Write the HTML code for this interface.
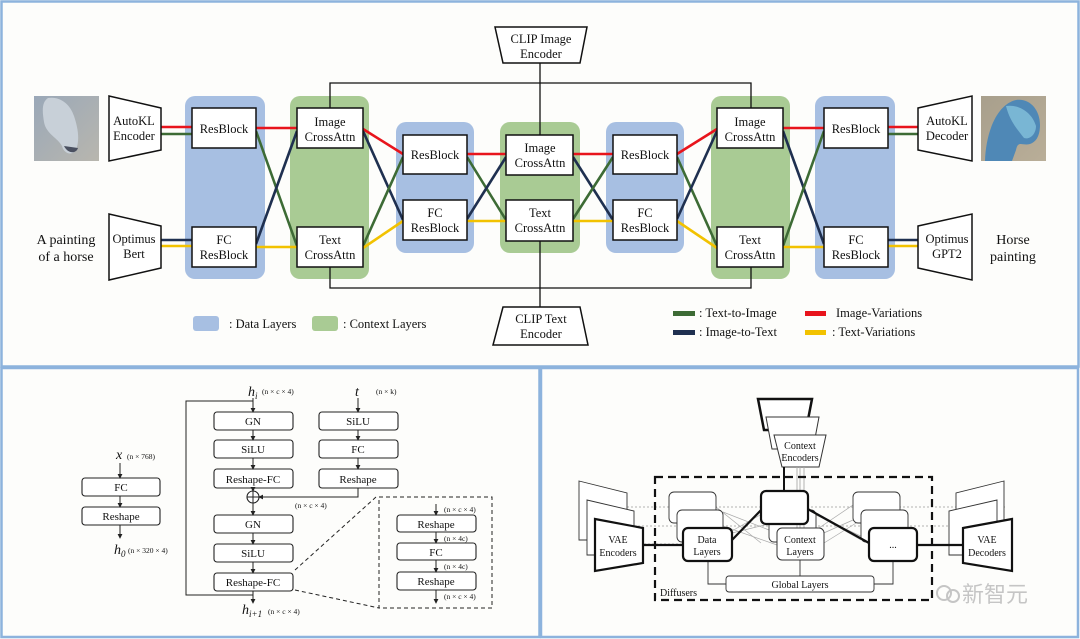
<!DOCTYPE html>
<html><head><meta charset="utf-8"><style>
html,body{margin:0;padding:0;background:#fff;}
svg{display:block;}
text{font-family:"Liberation Serif",serif;fill:#111;}
</style></head><body>
<svg width="1080" height="639" viewBox="0 0 1080 639" xmlns="http://www.w3.org/2000/svg">
<defs>
<linearGradient id="hl" x1="0" y1="0" x2="1" y2="1"><stop offset="0" stop-color="#9aa8b8"/><stop offset="1" stop-color="#b8b6ae"/></linearGradient>
<linearGradient id="hr" x1="0" y1="0" x2="1" y2="1"><stop offset="0" stop-color="#a89f8c"/><stop offset="1" stop-color="#b9ae98"/></linearGradient>
<marker id="ar" viewBox="0 0 6 6" refX="5" refY="3" markerWidth="5" markerHeight="5" orient="auto"><path d="M0,0 L6,3 L0,6Z" fill="#222"/></marker>
</defs>
<rect width="1080" height="639" fill="#fdfdfb"/>
<g fill="none" stroke="#8db3dd" stroke-width="2.5">
<rect x="1.5" y="1.5" width="1077" height="365"/>
<rect x="1.5" y="368" width="538" height="269"/>
<rect x="541" y="368" width="537" height="269"/>
</g>

<g>
<rect x="185" y="96" width="80" height="183" rx="10" fill="#a7bfe2"/>
<rect x="290" y="96" width="79" height="183" rx="10" fill="#a9cb94"/>
<rect x="396" y="122" width="78" height="131" rx="10" fill="#a7bfe2"/>
<rect x="500" y="122" width="80" height="131" rx="10" fill="#a9cb94"/>
<rect x="606" y="122" width="78" height="131" rx="10" fill="#a7bfe2"/>
<rect x="711" y="96" width="79" height="183" rx="10" fill="#a9cb94"/>
<rect x="815" y="96" width="80" height="183" rx="10" fill="#a7bfe2"/>
</g>
<g stroke="#111" stroke-width="1.3" fill="none">
<polyline points="330,108 330,83 751,83 751,108"/>
<polyline points="330,267 330,288 751,288 751,267"/>
<line x1="540" y1="63" x2="540" y2="135"/>
<line x1="540" y1="241" x2="540" y2="307"/>
</g>
<g stroke-width="2.6" fill="none">
<line x1="161" y1="127" x2="192" y2="127" stroke="#e8141c"/>
<line x1="161" y1="134" x2="192" y2="134" stroke="#3d6b35"/>
<line x1="161" y1="240" x2="192" y2="240" stroke="#1f3050"/>
<line x1="161" y1="246" x2="192" y2="246" stroke="#f2c200"/>
<line x1="256" y1="128" x2="297" y2="128" stroke="#e8141c"/>
<line x1="256" y1="131" x2="297" y2="246" stroke="#3d6b35"/>
<line x1="256" y1="244" x2="297" y2="131" stroke="#1f3050"/>
<line x1="256" y1="247" x2="297" y2="247" stroke="#f2c200"/>
<line x1="363" y1="129" x2="403" y2="154" stroke="#e8141c"/>
<line x1="363" y1="131" x2="403" y2="220" stroke="#1f3050"/>
<line x1="363" y1="246" x2="403" y2="157" stroke="#3d6b35"/>
<line x1="363" y1="248" x2="403" y2="221" stroke="#f2c200"/>
<line x1="467" y1="154" x2="506" y2="154" stroke="#e8141c"/>
<line x1="467" y1="157" x2="506" y2="220" stroke="#3d6b35"/>
<line x1="467" y1="219" x2="506" y2="157" stroke="#1f3050"/>
<line x1="467" y1="221" x2="506" y2="221" stroke="#f2c200"/>
<line x1="573" y1="154" x2="613" y2="154" stroke="#e8141c"/>
<line x1="573" y1="157" x2="613" y2="220" stroke="#1f3050"/>
<line x1="573" y1="219" x2="613" y2="157" stroke="#3d6b35"/>
<line x1="573" y1="221" x2="613" y2="221" stroke="#f2c200"/>
<line x1="677" y1="154" x2="717" y2="129" stroke="#e8141c"/>
<line x1="677" y1="157" x2="717" y2="246" stroke="#3d6b35"/>
<line x1="677" y1="219" x2="717" y2="131" stroke="#1f3050"/>
<line x1="677" y1="221" x2="717" y2="248" stroke="#f2c200"/>
<line x1="783" y1="128" x2="824" y2="128" stroke="#e8141c"/>
<line x1="783" y1="131" x2="824" y2="244" stroke="#1f3050"/>
<line x1="783" y1="246" x2="824" y2="131" stroke="#3d6b35"/>
<line x1="783" y1="247" x2="824" y2="247" stroke="#f2c200"/>
<line x1="888" y1="127" x2="918" y2="127" stroke="#e8141c"/>
<line x1="888" y1="134" x2="918" y2="134" stroke="#3d6b35"/>
<line x1="888" y1="240" x2="918" y2="240" stroke="#1f3050"/>
<line x1="888" y1="246" x2="918" y2="246" stroke="#f2c200"/>
</g>
<g fill="#fff" stroke="#111" stroke-width="1.5">
<rect x="192" y="108" width="64" height="40"/>
<rect x="192" y="227" width="64" height="40"/>
<rect x="297" y="108" width="66" height="40"/>
<rect x="297" y="227" width="66" height="40"/>
<rect x="403" y="135" width="64" height="39"/>
<rect x="403" y="200" width="64" height="40"/>
<rect x="506" y="135" width="67" height="40"/>
<rect x="506" y="200" width="67" height="41"/>
<rect x="613" y="135" width="64" height="39"/>
<rect x="613" y="200" width="64" height="40"/>
<rect x="717" y="108" width="66" height="40"/>
<rect x="717" y="227" width="66" height="40"/>
<rect x="824" y="108" width="64" height="40"/>
<rect x="824" y="227" width="64" height="40"/>
<polygon points="109,96 161,108 161,150 109,161"/>
<polygon points="109,214 161,226 161,268 109,280"/>
<polygon points="918,108 972,96 972,161 918,150"/>
<polygon points="918,226 972,214 972,280 918,268"/>
<polygon points="495,27 587,27 580,63 503,63"/>
<polygon points="503,307 580,307 588,345 493,345"/>
</g>
<g font-size="12.5" text-anchor="middle">
<text x="224" y="133">ResBlock</text>
<text x="224" y="244">FC</text><text x="224" y="259">ResBlock</text>
<text x="330" y="126">Image</text><text x="330" y="141">CrossAttn</text>
<text x="330" y="244">Text</text><text x="330" y="259">CrossAttn</text>
<text x="435" y="159">ResBlock</text>
<text x="435" y="217">FC</text><text x="435" y="232">ResBlock</text>
<text x="540" y="152">Image</text><text x="540" y="167">CrossAttn</text>
<text x="540" y="217">Text</text><text x="540" y="232">CrossAttn</text>
<text x="645" y="159">ResBlock</text>
<text x="645" y="217">FC</text><text x="645" y="232">ResBlock</text>
<text x="750" y="126">Image</text><text x="750" y="141">CrossAttn</text>
<text x="750" y="244">Text</text><text x="750" y="259">CrossAttn</text>
<text x="856" y="133">ResBlock</text>
<text x="856" y="244">FC</text><text x="856" y="259">ResBlock</text>
<text x="134" y="125">AutoKL</text><text x="134" y="140">Encoder</text>
<text x="134" y="243">Optimus</text><text x="134" y="258">Bert</text>
<text x="947" y="125">AutoKL</text><text x="947" y="140">Decoder</text>
<text x="947" y="243">Optimus</text><text x="947" y="258">GPT2</text>
<text x="541" y="43">CLIP Image</text><text x="541" y="58">Encoder</text>
<text x="541" y="323">CLIP Text</text><text x="541" y="338">Encoder</text>
</g>
<g font-size="14" text-anchor="middle">
<text x="66" y="244">A painting</text><text x="66" y="261">of a horse</text>
<text x="1013" y="244">Horse</text><text x="1013" y="261">painting</text>
</g>
<rect x="34" y="96" width="65" height="65" fill="url(#hl)"/>
<path d="M48,98 C60,96 70,104 74,116 C78,128 80,140 76,150 C72,156 64,154 62,146 C58,138 46,134 44,122 C42,110 42,102 48,98Z" fill="#c8d0d8"/>
<path d="M64,146 C68,154 76,154 78,148" fill="#4a5060"/>
<rect x="981" y="96" width="65" height="65" fill="url(#hr)"/>
<path d="M985,161 C986,130 998,104 1016,100 C1030,98 1040,110 1040,125 C1040,136 1036,142 1030,144 C1022,146 1018,140 1016,150 L1012,161Z" fill="#4f88b6"/>
<path d="M1006,106 C1018,104 1032,112 1036,126 C1036,134 1030,140 1024,138 C1018,130 1010,122 1006,106Z" fill="#79b6d4"/>
<rect x="193" y="316" width="26" height="15" rx="3" fill="#a7bfe2"/>
<text x="229" y="328" font-size="12.5">: Data Layers</text>
<rect x="312" y="316" width="26" height="15" rx="3" fill="#a9cb94"/>
<text x="343" y="328" font-size="12.5">: Context Layers</text>
<rect x="673" y="311" width="22" height="5" fill="#3d6b35"/>
<text x="699" y="317" font-size="12.5">: Text-to-Image</text>
<rect x="673" y="330" width="22" height="5" fill="#1f3050"/>
<text x="699" y="336" font-size="12.5">: Image-to-Text</text>
<rect x="805" y="311" width="21" height="5" fill="#e8141c"/>
<text x="836" y="317" font-size="12.5">Image-Variations</text>
<rect x="805" y="330" width="21" height="5" fill="#f2c200"/>
<text x="832" y="336" font-size="12.5">: Text-Variations</text>

<!-- BOTTOM LEFT -->
<g fill="#fff" stroke="#222" stroke-width="1.1">
<rect x="82" y="478" width="78" height="18" rx="3"/>
<rect x="82" y="507" width="78" height="18" rx="3"/>
<rect x="214" y="412" width="79" height="18" rx="3"/>
<rect x="214" y="440" width="79" height="18" rx="3"/>
<rect x="214" y="469" width="79" height="19" rx="3"/>
<rect x="214" y="515" width="79" height="18" rx="3"/>
<rect x="214" y="544" width="79" height="18" rx="3"/>
<rect x="214" y="573" width="79" height="18" rx="3"/>
<rect x="319" y="412" width="79" height="18" rx="3"/>
<rect x="319" y="440" width="79" height="18" rx="3"/>
<rect x="319" y="469" width="79" height="19" rx="3"/>
<rect x="397" y="515" width="79" height="17" rx="3"/>
<rect x="397" y="543" width="79" height="17" rx="3"/>
<rect x="397" y="572" width="79" height="18" rx="3"/>
<circle cx="253" cy="497" r="6"/>
</g>
<g stroke="#222" stroke-width="1" fill="none" marker-end="url(#ar)">
<line x1="120" y1="463" x2="120" y2="478"/><line x1="120" y1="496" x2="120" y2="507"/><line x1="120" y1="525" x2="120" y2="538"/>
<line x1="253" y1="398" x2="253" y2="412"/><line x1="253" y1="430" x2="253" y2="440"/><line x1="253" y1="458" x2="253" y2="469"/>
<line x1="253" y1="488" x2="253" y2="491"/><line x1="253" y1="503" x2="253" y2="515"/><line x1="253" y1="533" x2="253" y2="544"/>
<line x1="253" y1="562" x2="253" y2="573"/><line x1="253" y1="591" x2="253" y2="603"/>
<line x1="358" y1="398" x2="358" y2="412"/><line x1="358" y1="430" x2="358" y2="440"/><line x1="358" y1="458" x2="358" y2="469"/>
<polyline points="358,488 358,497 259,497"/>
<line x1="436" y1="504" x2="436" y2="515"/><line x1="436" y1="532" x2="436" y2="543"/><line x1="436" y1="560" x2="436" y2="572"/><line x1="436" y1="590" x2="436" y2="603"/>
</g>
<g stroke="#222" stroke-width="1" fill="none">
<line x1="247" y1="497" x2="259" y2="497"/><line x1="253" y1="491" x2="253" y2="503"/>
<polyline points="253,401 186,401 186,595 253,595"/>
<rect x="379" y="497" width="113" height="111" stroke-dasharray="4,3"/>
<line x1="295" y1="570" x2="376" y2="497" stroke-dasharray="4,3"/>
<line x1="295" y1="590" x2="379" y2="608" stroke-dasharray="4,3"/>
</g>
<g font-size="11" text-anchor="middle">
<text x="121" y="491">FC</text><text x="121" y="520">Reshape</text>
<text x="253" y="425">GN</text><text x="253" y="453">SiLU</text><text x="253" y="483">Reshape-FC</text>
<text x="253" y="528">GN</text><text x="253" y="557">SiLU</text><text x="253" y="586">Reshape-FC</text>
<text x="358" y="425">SiLU</text><text x="358" y="453">FC</text><text x="358" y="483">Reshape</text>
<text x="436" y="528">Reshape</text><text x="436" y="556">FC</text><text x="436" y="585">Reshape</text>
</g>
<g font-size="7.5" fill="#333">
<text x="127" y="459">(n × 768)</text>
<text x="128" y="553">(n × 320 × 4)</text>
<text x="262" y="394">(n × c × 4)</text>
<text x="376" y="394">(n × k)</text>
<text x="295" y="508">(n × c × 4)</text>
<text x="444" y="512">(n × c × 4)</text>
<text x="444" y="541">(n × 4c)</text>
<text x="444" y="569">(n × 4c)</text>
<text x="444" y="599">(n × c × 4)</text>
<text x="268" y="614">(n × c × 4)</text>
</g>
<g font-style="italic" font-size="14">
<text x="116" y="459">x</text>
<text x="114" y="554">h<tspan font-size="9" dy="3">0</tspan></text>
<text x="248" y="396">h<tspan font-size="9" dy="3">i</tspan></text>
<text x="355" y="396">t</text>
<text x="242" y="614">h<tspan font-size="9" dy="3">i+1</tspan></text>
</g>

<!-- BOTTOM RIGHT -->
<g stroke="#999" stroke-width="0.8" stroke-dasharray="2,2" fill="none">
<line x1="627" y1="507" x2="1005" y2="507"/>
<line x1="634" y1="526" x2="1010" y2="526"/>
<line x1="640" y1="544" x2="683" y2="544"/>
</g>
<g stroke="#aaa" stroke-width="0.7" fill="none">
<line x1="716" y1="507" x2="761" y2="543"/><line x1="723" y1="512" x2="769" y2="530"/>
<line x1="716" y1="540" x2="769" y2="510"/><line x1="723" y1="526" x2="777" y2="545"/>
<line x1="732" y1="533" x2="777" y2="522"/>
<line x1="808" y1="510" x2="861" y2="540"/><line x1="816" y1="530" x2="853" y2="505"/>
<line x1="824" y1="543" x2="869" y2="515"/><line x1="816" y1="515" x2="869" y2="540"/>
<line x1="808" y1="540" x2="853" y2="520"/>
</g>
<g fill="#fff" stroke="#333" stroke-width="0.9">
<polygon points="579,481 627,493 627,540 579,540"/>
<polygon points="587,500 634,511 634,555 587,555"/>
<polygon points="1004,481 956,493 956,540 1004,540"/>
<polygon points="997,500 949,511 949,555 997,555"/>
<rect x="669" y="492" width="47" height="31" rx="5"/>
<rect x="677" y="510" width="46" height="32" rx="5"/>
<rect x="853" y="492" width="47" height="31" rx="5"/>
<rect x="861" y="510" width="47" height="32" rx="5"/>
<rect x="769" y="510" width="47" height="32" rx="5"/>
</g>
<polygon points="758,399 812,399 806,430 764,430" fill="#fff" stroke="#111" stroke-width="2.5"/>
<polygon points="766,417 819,417 813,449 772,449" fill="#fff" stroke="#333" stroke-width="1"/>
<polygon points="774,435 826,435 819,467 782,467" fill="#fff" stroke="#333" stroke-width="1"/>
<text x="800" y="449" font-size="10" text-anchor="middle">Context</text>
<text x="800" y="461" font-size="10" text-anchor="middle">Encoders</text>
<g stroke="#aaa" stroke-width="0.9"><line x1="797" y1="467" x2="797" y2="528"/><line x1="800" y1="467" x2="800" y2="528"/><line x1="804" y1="467" x2="804" y2="528"/></g>
<line x1="784" y1="467" x2="784" y2="491" stroke="#111" stroke-width="2"/>
<rect x="655" y="477" width="277" height="123" fill="none" stroke="#111" stroke-width="2.2" stroke-dasharray="8,5"/>
<text x="660" y="596" font-size="10">Diffusers</text>
<g stroke="#111" stroke-width="2.2" fill="none">
<line x1="643" y1="545" x2="683" y2="545"/>
<line x1="917" y1="545" x2="963" y2="545"/>
<line x1="732" y1="540" x2="763" y2="508"/>
<line x1="806" y1="508" x2="869" y2="543"/>
</g>
<g stroke="#333" stroke-width="0.9" fill="none">
<polyline points="708,561 708,584 726,584"/>
<line x1="800" y1="560" x2="800" y2="576"/>
<polyline points="893,561 893,584 874,584"/>
</g>
<rect x="726" y="576" width="148" height="16" rx="3" fill="#fff" stroke="#333" stroke-width="0.9"/>
<text x="800" y="588" font-size="10" text-anchor="middle">Global Layers</text>
<rect x="761" y="491" width="47" height="33" rx="5" fill="#fff" stroke="#111" stroke-width="2.2"/>
<rect x="777" y="528" width="47" height="32" rx="5" fill="#fff" stroke="#333" stroke-width="1"/>
<rect x="683" y="528" width="49" height="33" rx="5" fill="#fff" stroke="#111" stroke-width="2.2"/>
<rect x="869" y="528" width="48" height="33" rx="5" fill="#fff" stroke="#111" stroke-width="2.2"/>
<g font-size="10" text-anchor="middle">
<text x="707" y="543">Data</text><text x="707" y="555">Layers</text>
<text x="800" y="543">Context</text><text x="800" y="555">Layers</text>
<text x="893" y="548">...</text>
</g>
<polygon points="595,519 643,528 643,563 595,571" fill="#fff" stroke="#111" stroke-width="2.2"/>
<polygon points="963,528 1012,519 1012,571 963,563" fill="#fff" stroke="#111" stroke-width="2.2"/>
<g font-size="10" text-anchor="middle">
<text x="618" y="543">VAE</text><text x="618" y="556">Encoders</text>
<text x="987" y="543">VAE</text><text x="987" y="556">Decoders</text>
</g>
<g opacity="0.55">
<circle cx="944" cy="593" r="7" fill="none" stroke="#999" stroke-width="2"/>
<circle cx="953" cy="596" r="6" fill="none" stroke="#999" stroke-width="2"/>
<text x="962" y="602" font-size="22" font-family="'Noto Sans CJK SC',sans-serif" style="fill:#999">新智元</text>
</g>
</svg>
</body></html>
